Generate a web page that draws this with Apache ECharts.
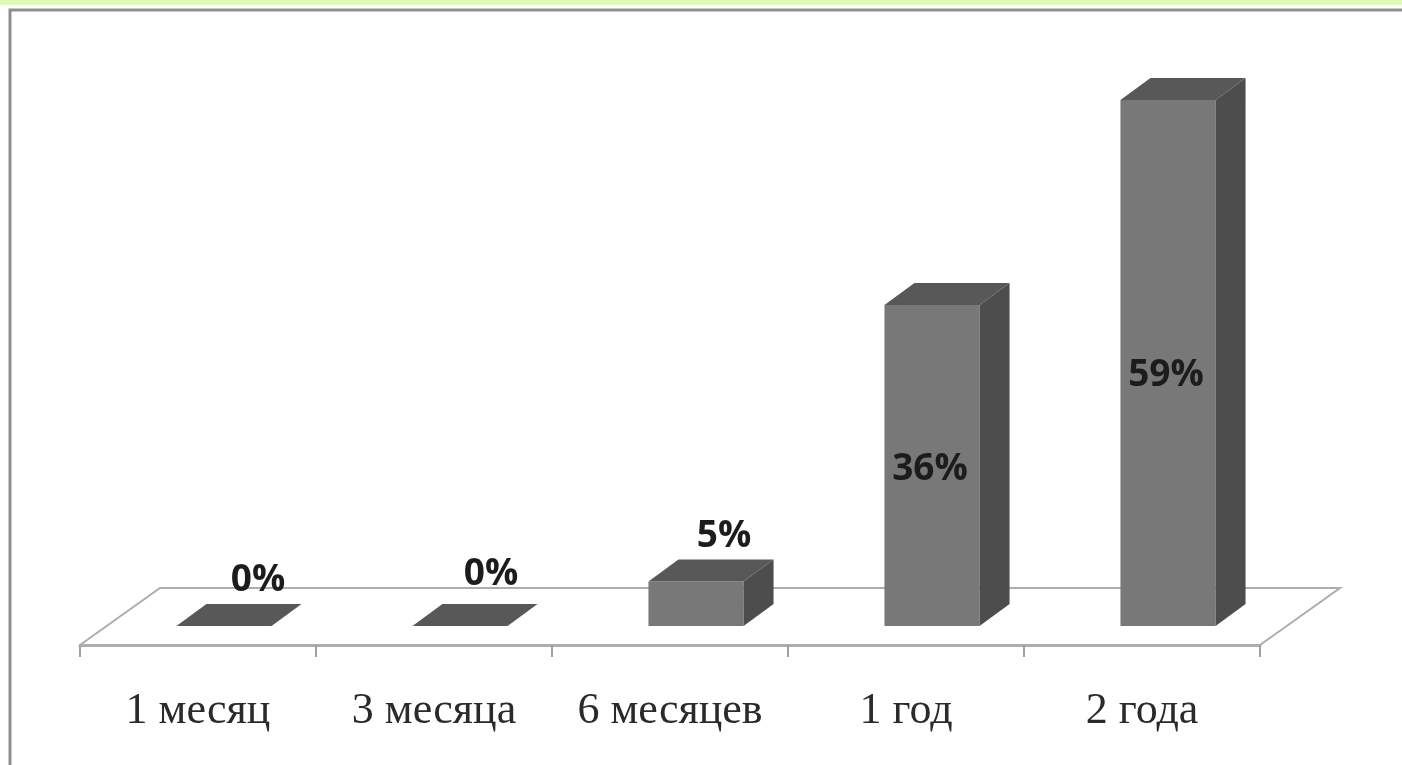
<!DOCTYPE html>
<html>
<head>
<meta charset="utf-8">
<style>html,body{margin:0;padding:0;background:#fff}#c{width:1402px;height:765px}</style>
<script src="https://cdn.jsdelivr.net/npm/echarts@6/dist/echarts.min.js"></script>
</head>
<body>
<div id="c"></div>
<script>
const categories = ['1 месяц', '3 месяца', '6 месяцев', '1 год', '2 года'];
const shares = [0, 0, 5, 36, 59];
const shareLabels = ['0%', '0%', '5%', '36%', '59%'];

// Hand placement of each percentage, relative to the bar's front face.
const labelNudge = [[34, -46], [31, -52], [28, -45], [-2, 4], [-2, 12]];
const FLOOR_DROP = 19, FLOOR_DX = 80, FLOOR_DY = -57;
const DEPTH_DX = 30, DEPTH_DY = -22, BAR_SHIFT = 26, BAR_RATIO = 0.403;

const chart = echarts.init(document.getElementById('c'), null, { renderer: 'canvas' });

function renderFloor(params, api) {
  const cs = params.coordSys;
  const y = cs.y + cs.height + FLOOR_DROP, l = cs.x, r = cs.x + cs.width;
  return {
    type: 'polyline',
    shape: { points: [[l, y], [l + FLOOR_DX, y + FLOOR_DY], [r + FLOOR_DX, y + FLOOR_DY], [r, y]] },
    style: { stroke: '#adadad', lineWidth: 2, fill: 'none' }
  };
}

function renderBar(params, api) {
  const i = api.value(0), v = api.value(1);
  const top = api.coord([i, v]), base = api.coord([i, 0]);
  const w = api.size([1, 0])[0] * BAR_RATIO;
  const l = top[0] + BAR_SHIFT - w / 2, r = l + w;
  const face = (points, fill) => ({ type: 'polygon', shape: { points }, style: { fill } });
  const nudge = labelNudge[i];
  const midY = v > 10 ? (top[1] + base[1]) / 2 : top[1];
  return {
    type: 'group',
    children: [
      face([[l, top[1]], [r, top[1]], [r, base[1]], [l, base[1]]], '#787878'),
      face([[r, top[1]], [r + DEPTH_DX, top[1] + DEPTH_DY], [r + DEPTH_DX, base[1] + DEPTH_DY], [r, base[1]]], '#4d4d4d'),
      face([[l, top[1]], [l + DEPTH_DX, top[1] + DEPTH_DY], [r + DEPTH_DX, top[1] + DEPTH_DY], [r, top[1]]], '#585858'),
      {
        type: 'text',
        style: {
          x: (l + r) / 2 + nudge[0], y: midY + nudge[1],
          text: shareLabels[i], align: 'center', verticalAlign: 'middle',
          font: 'bold 37px "Open Sans"', fill: '#1c1c1c'
        }
      }
    ]
  };
}

chart.setOption({
  animation: false,
  backgroundColor: '#fff',
  grid: { left: 80, width: 1180, top: 100, height: 526 },
  xAxis: {
    type: 'category', data: categories, offset: FLOOR_DROP,
    axisLine: { onZero: false, lineStyle: { color: '#adadad', width: 3 } },
    axisTick: { show: true, interval: 0, alignWithLabel: false, length: 12, lineStyle: { color: '#a0a0a0', width: 2 } },
    axisLabel: { interval: 0, fontFamily: 'Liberation Serif', fontSize: 44, color: '#2a2a2a', margin: 44 }
  },
  yAxis: { type: 'value', min: 0, max: 59, show: false, splitLine: { show: false } },
  graphic: [
    { type: 'rect', shape: { x: 0, y: 0, width: 1402, height: 5 }, style: { fill: '#e2f8b8' }, silent: true },
    { type: 'polyline', shape: { points: [[10, 765], [10, 10], [1402, 10]] }, style: { stroke: '#8f8f8f', lineWidth: 3, fill: 'none' }, silent: true }
  ],
  series: [
    { type: 'custom', z: 1, silent: true, data: [[0, 0]], renderItem: renderFloor },
    { type: 'custom', z: 2, silent: true, encode: { x: 0, y: 1 }, data: shares.map((s, i) => [i, s]), renderItem: renderBar }
  ]
});
</script>
</body>
</html>
